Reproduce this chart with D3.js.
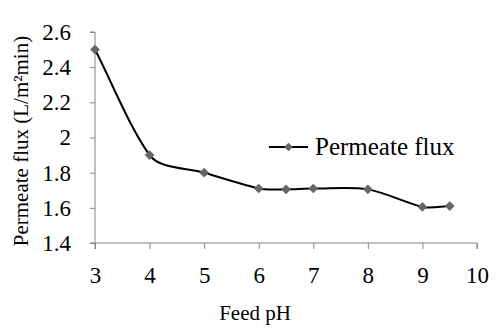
<!DOCTYPE html>
<html>
<head>
<meta charset="utf-8">
<script src="https://cdn.jsdelivr.net/npm/d3@7"></script>
<style>
  body { margin: 0; background: #fff; }
  svg text { font-family: "Liberation Serif", "Times New Roman", serif; }
</style>
</head>
<body>
<div id="wrapper"></div>
<script>
const feedPH = [3, 4, 5, 6, 6.5, 7, 8, 9, 9.5]
const permeateFlux = [2.5, 1.9, 1.8, 1.71, 1.705, 1.71, 1.705, 1.605, 1.61]
const xTicks = [3, 4, 5, 6, 7, 8, 9, 10]
const yTicks = [1.4, 1.6, 1.8, 2, 2.2, 2.4, 2.6]

// smoothing like the spreadsheet: tangent leans toward the longer segment,
// handles scale with the length of each segment
function excelCurve(context) {
    const k = 0.3
    return {
        areaStart() {}, areaEnd() {},
        lineStart() { this.pts = [] },
        point(x, y) { this.pts.push([+x, +y]) },
        lineEnd() {
            const p = this.pts, n = p.length
            if (!n) return
            const tangent = i => {
                let tx = 0, ty = 0
                if (i > 0) {
                    const dx = p[i][0] - p[i - 1][0], dy = p[i][1] - p[i - 1][1], l = Math.hypot(dx, dy)
                    tx += dx * l; ty += dy * l
                }
                if (i < n - 1) {
                    const dx = p[i + 1][0] - p[i][0], dy = p[i + 1][1] - p[i][1], l = Math.hypot(dx, dy)
                    tx += dx * l; ty += dy * l
                }
                const len = Math.hypot(tx, ty) || 1
                return [tx / len, ty / len]
            }
            context.moveTo(p[0][0], p[0][1])
            for (let i = 0; i < n - 1; i++) {
                const L = Math.hypot(p[i + 1][0] - p[i][0], p[i + 1][1] - p[i][1])
                const t0 = tangent(i), t1 = tangent(i + 1)
                context.bezierCurveTo(
                    p[i][0] + t0[0] * L * k, p[i][1] + t0[1] * L * k,
                    p[i + 1][0] - t1[0] * L * k, p[i + 1][1] - t1[1] * L * k,
                    p[i + 1][0], p[i + 1][1])
            }
        }
    }
}

function drawChart() {
    const dimensions = {
        width: 500,
        height: 330,
        margin: {top: 32, right: 23, bottom: 87, left: 95},
    }
    dimensions.boundedWidth = dimensions.width - dimensions.margin.left - dimensions.margin.right
    dimensions.boundedHeight = dimensions.height - dimensions.margin.top - dimensions.margin.bottom

    const svg = d3.select("#wrapper").append("svg")
        .attr("width", dimensions.width)
        .attr("height", dimensions.height)
    const bounds = svg.append("g")
        .attr("transform", `translate(${dimensions.margin.left},${dimensions.margin.top})`)

    const xScale = d3.scaleLinear().domain([3, 10]).range([0, dimensions.boundedWidth])
    const yScale = d3.scaleLinear().domain([1.4, 2.6]).range([dimensions.boundedHeight, 0])

    const axisColor = "#868686"
    const serif = "'Liberation Serif', 'Times New Roman', serif"

    // y axis
    const yAxis = bounds.append("g")
        .call(d3.axisLeft(yScale).tickValues(yTicks).tickSize(5).tickPadding(19).tickFormat(d3.format("")))
    yAxis.select(".domain").attr("stroke", axisColor).attr("d", `M-5,${dimensions.boundedHeight}H0V0H-5`)
    yAxis.selectAll(".tick line").attr("stroke", axisColor)
    yAxis.selectAll("text").attr("font-size", 23).attr("fill", "#000")
        .style("font-family", serif)

    // x axis
    const xAxis = bounds.append("g")
        .attr("transform", `translate(0,${dimensions.boundedHeight})`)
        .call(d3.axisBottom(xScale).tickValues(xTicks).tickSize(6).tickPadding(18).tickFormat(d3.format("")))
    xAxis.select(".domain").attr("stroke", axisColor).attr("d", `M0,6V0H${dimensions.boundedWidth}V6`)
    xAxis.selectAll(".tick line").attr("stroke", axisColor)
    xAxis.selectAll("text").attr("font-size", 23).attr("fill", "#000")
        .style("font-family", serif)

    // line
    const points = feedPH.map((x, i) => [x, permeateFlux[i]])
    const line = d3.line()
        .x(d => xScale(d[0]))
        .y(d => yScale(d[1]))
        .curve(excelCurve)
    bounds.append("path")
        .datum(points)
        .attr("d", line)
        .attr("fill", "none")
        .attr("stroke", "#000")
        .attr("stroke-width", 2)

    const diamond = d3.symbol().type(d3.symbolDiamond2).size(60)
    bounds.selectAll(".marker")
        .data(points)
        .join("path")
        .attr("class", "marker")
        .attr("d", diamond)
        .attr("transform", d => `translate(${xScale(d[0])},${yScale(d[1])})`)
        .attr("fill", "#666")

    // legend
    const legend = svg.append("g").attr("transform", "translate(269,147)")
    legend.append("line").attr("x1", 0).attr("x2", 39).attr("stroke", "#000").attr("stroke-width", 2)
    legend.append("path").attr("d", d3.symbol().type(d3.symbolDiamond2).size(45))
        .attr("transform", "translate(19.5,0)").attr("fill", "#666")
    legend.append("text").attr("x", 46).attr("y", 8).attr("font-size", 25)
        .style("font-family", serif).text("Permeate flux")

    // axis titles
    svg.append("text")
        .attr("x", 255)
        .attr("y", 320)
        .attr("text-anchor", "middle")
        .attr("font-size", 21)
        .style("font-family", serif)
        .text("Feed pH")
    svg.append("text")
        .attr("transform", `translate(28,141) rotate(-90)`)
        .attr("text-anchor", "middle")
        .attr("font-size", 21)
        .style("font-family", serif)
        .text("Permeate flux (L/m²min)")
}

drawChart()
</script>
</body>
</html>
